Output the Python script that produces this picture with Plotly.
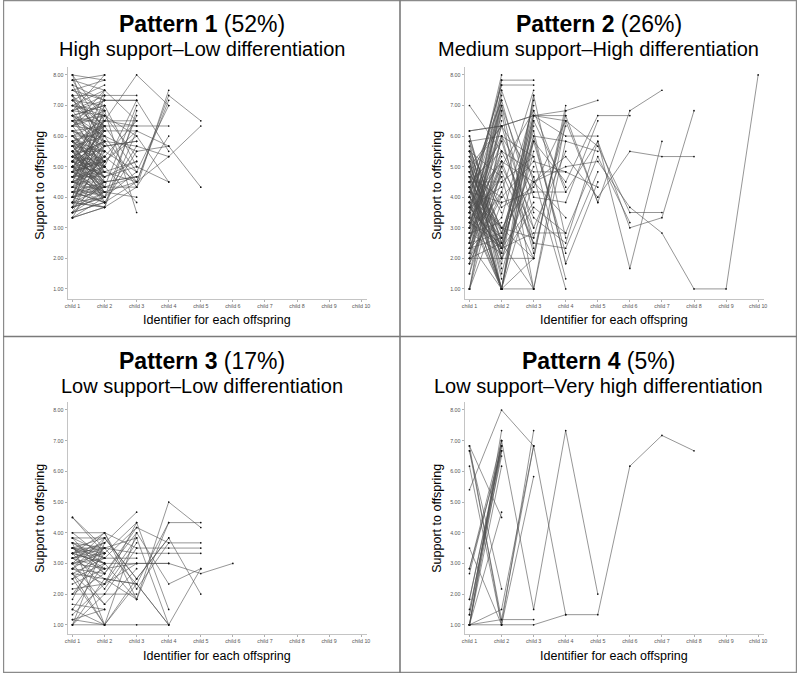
import plotly.graph_objects as go

child_labels = ["child 1", "child 2", "child 3", "child 4", "child 5",
                "child 6", "child 7", "child 8", "child 9", "child 10"]
y_ticks = [1, 2, 3, 4, 5, 6, 7, 8]

titles = ["Pattern 1", "Pattern 2", "Pattern 3", "Pattern 4"]
shares = ["(52%)", "(26%)", "(17%)", "(5%)"]
subtitles = ["High support\u2013Low differentiation",
             "Medium support\u2013High differentiation",
             "Low support\u2013Low differentiation",
             "Low support\u2013Very high differentiation"]

# Each inner list = support values to child 1, child 2, ... of one family
pattern1 = [
    [8.0, 7.83], [8.0, 6.5], [7.83, 8.0], [7.67, 7.17], [7.5, 6.83], [7.33, 7.33],
    [7.17, 7.67], [7.0, 6.17], [7.0, 7.5], [6.83, 5.5], [6.83, 6.67], [6.67, 7.0],
    [6.67, 5.83], [6.5, 6.0], [6.5, 7.17], [6.33, 5.0], [6.33, 6.83], [6.17, 5.67],
    [6.17, 6.33], [6.0, 4.67], [6.0, 6.5], [5.83, 5.17], [5.83, 6.17], [5.67, 4.5],
    [5.67, 6.0], [5.5, 5.5], [5.5, 4.17], [5.33, 5.83], [5.33, 4.83], [5.17, 5.33],
    [5.17, 4.33], [5.0, 5.67], [5.0, 4.0], [4.83, 5.17], [4.83, 6.33], [4.67, 4.67],
    [4.67, 5.5], [4.5, 4.17], [4.5, 5.0], [4.33, 4.83], [4.33, 6.0], [4.17, 4.5],
    [4.17, 5.33], [4.0, 4.17], [4.0, 6.67], [3.83, 4.33], [3.83, 5.83], [3.67, 4.0],
    [3.67, 7.0], [3.5, 4.5], [3.5, 3.83], [3.33, 3.67], [3.33, 5.17], [5.17, 4.17],
    [5.0, 5.17], [4.83, 4.5], [5.33, 5.0], [5.17, 5.0], [4.5, 4.5], [4.67, 4.17],
    [5.5, 6.33], [6.0, 5.33], [6.33, 7.5], [5.83, 4.83], [4.0, 5.0], [4.33, 3.83],
    [6.83, 8.0], [7.33, 5.83], [3.83, 3.67], [5.67, 6.67], [4.17, 3.83], [6.5, 5.17],
    [5.0, 6.17], [4.83, 4.0], [6.17, 4.33], [5.5, 4.67], [7.17, 6.33], [3.67, 5.5],
    [5.33, 4.5], [5.17, 5.83], [5.0, 4.83], [4.83, 5.33], [4.67, 4.83], [4.5, 5.17],
    [5.33, 5.17], [5.17, 4.67], [5.0, 4.5], [4.83, 4.17], [4.67, 5.0], [4.5, 4.0],
    [5.67, 5.17], [5.5, 5.0], [5.83, 5.5], [6.0, 6.0], [6.17, 5.83], [6.33, 6.17],
    [6.5, 6.67], [6.67, 6.33], [6.83, 7.17], [7.0, 6.83], [7.17, 7.0], [7.5, 7.83],
    [4.33, 4.33], [4.17, 4.17], [4.0, 4.33], [3.83, 4.0], [3.67, 4.5], [3.5, 4.17],
    [4.5, 6.5], [4.0, 7.33], [3.83, 6.33], [5.83, 3.83], [6.67, 4.83], [7.33, 4.5],
    [7.67, 5.67], [8.0, 5.0], [7.83, 6.17], [3.33, 4.0], [3.5, 5.67], [5.67, 5.5],
    [5.33, 6.5], [5.17, 7.0], [4.83, 7.5], [4.67, 6.17], [5.0, 3.83], [5.5, 4.33],
    [5.5, 6.5, 8.0, 7.0], [4.67, 5.33, 4.5, 7.33, 6.5], [5.83, 4.83, 4.5, 5.33, 6.33],
    [6.0, 5.17, 6.17, 5.67, 4.33], [4.0, 3.67, 4.33, 7.5], [3.67, 4.17, 4.5, 7.17],
    [5.17, 6.5, 6.33, 6.33], [6.33, 7.17, 7.17, 5.5], [4.5, 4.33, 4.33, 6.0],
    [5.33, 4.67, 5.0, 4.5], [7.0, 6.67, 6.0, 4.5], [4.83, 5.83, 5.67, 5.33],
    [4.33, 4.0, 4.83, 7.0], [6.67, 6.0, 5.5, 5.67],
    [6.83, 7.33, 7.33], [7.5, 7.17, 7.17], [6.5, 6.5, 6.5], [5.83, 6.33, 6.33],
    [5.0, 6.17, 6.17], [4.67, 5.67, 5.83], [4.17, 4.33, 7.0], [3.83, 3.67, 6.83],
    [5.5, 4.0, 6.67], [5.67, 4.17, 4.0], [6.0, 5.0, 3.83], [4.5, 6.83, 3.5],
    [5.17, 4.67, 5.17], [6.17, 5.5, 4.83], [4.0, 4.5, 4.67], [7.17, 6.0, 4.5],
    [3.5, 3.83, 5.5], [6.67, 7.0, 5.0], [4.83, 5.17, 6.0], [5.33, 5.83, 4.33],
    [3.67, 4.0, 5.67], [7.83, 7.5, 6.5], [6.33, 6.67, 5.33], [4.33, 5.33, 6.5],
    [5.0, 4.33, 4.67], [5.83, 5.0, 7.17], [4.17, 3.83, 4.5], [6.5, 5.67, 5.83],
    [7.33, 6.33, 4.83], [3.33, 3.67, 6.17], [4.5, 4.83, 5.17], [5.67, 4.5, 4.67],
]

pattern2 = [
    [3.5, 8.0], [2.5, 7.83], [4.0, 7.67], [3.0, 7.5], [2.0, 7.33], [4.5, 7.17],
    [3.33, 7.0], [1.0, 6.83], [2.83, 6.5], [5.0, 6.33], [1.5, 6.0], [6.17, 6.33],
    [7.0, 5.5], [5.83, 1.0], [5.5, 1.33], [6.0, 2.5], [5.17, 1.67], [4.67, 2.33],
    [4.83, 1.0], [5.67, 2.0], [4.33, 2.17], [3.83, 1.0], [3.17, 5.33], [2.67, 5.17],
    [2.17, 4.83], [1.83, 4.5], [2.33, 5.0], [3.67, 4.33], [4.17, 3.0], [5.33, 3.5],
    [1.0, 3.83], [2.0, 2.0], [4.0, 2.67], [3.0, 4.0], [4.5, 5.5], [5.0, 2.33],
    [3.5, 6.67], [2.5, 1.0], [4.17, 7.17], [5.5, 4.67], [3.83, 5.17], [4.67, 4.0],
    [3.17, 2.5], [2.83, 3.17], [4.33, 5.83], [3.67, 2.33], [5.17, 3.0], [2.33, 2.67],
    [3.33, 4.67], [4.83, 2.83],
    [3.5, 7.83, 7.83], [4.0, 7.67, 7.67], [2.5, 7.0, 2.33], [3.0, 6.83, 1.0],
    [2.17, 7.5, 4.5], [1.83, 7.17, 3.5], [5.0, 1.0, 7.33], [4.67, 2.33, 7.17],
    [5.5, 2.5, 6.67], [4.33, 1.0, 6.5], [3.83, 2.17, 6.33], [5.83, 2.83, 5.83],
    [6.0, 2.0, 4.67], [3.33, 1.0, 1.0], [4.5, 3.0, 2.0], [2.67, 4.17, 7.5],
    [3.17, 5.83, 2.67], [4.83, 6.33, 3.0], [2.83, 5.0, 6.83], [1.5, 4.83, 2.5],
    [3.67, 2.33, 3.83], [5.17, 1.5, 5.5], [4.17, 3.83, 4.17], [2.33, 3.33, 7.0],
    [3.5, 2.67, 5.0], [4.0, 2.0, 2.0], [1.0, 6.0, 5.33],
    [4.0, 2.5, 6.67, 6.67], [3.5, 1.0, 6.67, 6.5], [5.33, 2.33, 6.0, 1.83],
    [2.5, 6.33, 4.67, 1.0], [3.0, 5.5, 4.83, 4.83], [4.67, 1.0, 5.83, 2.17],
    [1.83, 4.17, 2.0, 6.83], [2.0, 2.5, 1.0, 5.83], [4.33, 1.83, 7.33, 2.67],
    [5.0, 3.0, 2.67, 6.33], [2.17, 5.17, 4.5, 3.33], [3.83, 1.0, 2.0, 7.0],
    [5.83, 6.0, 4.17, 4.17], [3.17, 2.33, 2.83, 2.83], [4.5, 4.5, 5.33, 1.33],
    [1.0, 5.0, 3.0, 5.5], [2.83, 2.17, 6.5, 4.33],
    [6.17, 6.33, 6.67, 6.83, 7.17], [3.0, 6.33, 6.67, 6.0, 6.0],
    [2.0, 4.0, 5.17, 4.83, 4.33], [3.5, 5.17, 2.5, 2.33, 4.83],
    [5.5, 3.67, 4.33, 6.5, 3.83], [2.5, 2.83, 6.17, 1.83, 4.5],
    [4.5, 1.0, 6.0, 5.83, 5.5], [3.83, 7.0, 4.0, 3.83, 6.5],
    [3.33, 2.33, 5.83, 4.5, 6.67, 6.67],
    [2.33, 5.5, 3.33, 2.5, 5.83, 1.67, 5.83],
    [4.33, 1.0, 4.5, 5.33, 4.0, 5.5, 5.33, 5.33],
    [3.67, 6.0, 2.17, 6.67, 3.83, 6.83, 7.5],
    [4.83, 2.67, 6.83, 4.17, 5.83, 3.0, 3.33, 6.83],
    [2.67, 4.67, 1.0, 6.5, 5.67, 3.5, 3.5],
    [4.0, 3.0, 4.5, 5.0, 5.17, 3.67, 2.83, 1.0, 1.0, 8.0],
    [5.17, 2.0, 3.67, 2.83, 5.33, 3.17],
]

pattern3 = [
    [3.5, 3.33], [3.33, 3.5], [3.17, 2.83], [3.0, 3.33], [3.67, 3.0], [2.83, 3.5],
    [3.5, 2.67], [3.17, 3.5], [3.33, 3.0], [2.67, 3.17], [2.33, 2.83], [2.0, 3.33],
    [4.0, 3.17], [1.67, 1.5], [1.83, 3.83], [1.0, 3.67], [4.5, 3.33], [3.67, 1.0],
    [3.83, 3.83], [2.67, 1.0], [1.5, 3.0], [3.0, 1.67], [3.5, 3.5], [2.5, 3.0],
    [1.17, 1.5], [3.33, 3.67], [3.17, 3.33], [2.83, 2.67], [3.5, 3.17], [3.0, 2.83],
    [4.0, 4.0, 3.5], [3.17, 3.67, 4.67], [2.83, 2.33, 4.33], [3.5, 3.83, 2.5],
    [1.5, 1.0, 4.0], [3.67, 3.17, 3.17], [2.0, 2.0, 2.0], [2.5, 3.5, 3.83],
    [3.33, 2.17, 3.67], [1.33, 2.33, 3.0], [3.0, 4.0, 1.83], [2.67, 1.67, 2.83],
    [3.83, 2.67, 4.17], [1.0, 2.5, 2.33],
    [1.0, 1.0, 1.0, 1.0], [4.5, 3.5, 2.33, 1.0], [3.83, 3.33, 4.33, 1.5],
    [2.67, 2.5, 1.83, 4.33], [3.33, 4.0, 2.17, 3.67], [1.17, 1.0, 2.5, 3.83],
    [3.5, 2.83, 3.0, 3.0], [2.17, 2.33, 3.83, 1.0],
    [3.5, 3.0, 1.83, 5.0, 4.17], [3.17, 2.5, 2.33, 4.33, 4.33],
    [2.83, 3.83, 2.5, 3.83, 2.0], [2.0, 2.67, 4.0, 2.33, 2.83],
    [3.67, 3.5, 3.33, 3.33, 3.33], [2.5, 1.0, 2.33, 1.0, 2.83],
    [3.0, 3.17, 4.17, 3.67, 3.67], [1.0, 2.0, 3.5, 3.5, 3.5],
    [3.33, 3.0, 3.0, 3.0, 2.67, 3.0],
]

pattern4 = [
    [5.4, 8.0, 6.83, 1.33, 1.33, 6.17, 7.17, 6.67],
    [1.0, 7.0, 1.5, 7.33, 2.0],
    [1.0, 1.0, 1.0, 1.33],
    [1.0, 1.17, 1.17],
    [6.83, 1.0, 7.33],
    [6.67, 1.17, 6.83],
    [6.17, 1.0, 5.83],
    [1.0, 1.5, 6.83],
    [2.83, 7.0], [2.67, 6.83], [1.83, 6.67], [1.5, 6.5], [1.33, 6.83],
    [1.0, 6.67], [1.0, 6.17], [3.5, 1.0], [6.67, 2.17], [1.0, 4.67],
    [1.0, 7.33], [6.83, 4.5], [1.83, 6.83], [1.33, 7.0], [2.83, 6.67],
]

patterns = [pattern1, pattern2, pattern3, pattern4]

# layout geometry (paper fractions)
W, H = 800, 673
x_doms = [(65 / W, 367 / W), (465 / W, 767 / W)]
y_doms = [((H - 299) / H, (H - 67) / H), ((H - 634) / H, (H - 402) / H)]
y_ranges = [[0.67, 8.26], [0.7, 8.26]]
title_y = [24, 361]
sub_y = [49.5, 386]
xtitle_y = [320, 656]
ytitle_y = [185, 518]
panel_cx = [200, 600]

fig = go.Figure()
layout_axes = {}
annotations = []
for k, fams in enumerate(patterns):
    col, row = k % 2, k // 2
    ax = "" if k == 0 else str(k + 1)
    for fam in fams:
        xs = list(range(1, len(fam) + 1))
        fig.add_trace(go.Scatter(
            x=xs, y=fam, mode="lines+markers",
            line=dict(color="#4f4f4f", width=0.6),
            marker=dict(color="#111111", size=1.7),
            xaxis="x" + ax, yaxis="y" + ax, showlegend=False, hoverinfo="skip"))
    axis_common = dict(showline=True, linecolor="#c4c4c4", linewidth=1,
                       ticks="outside", ticklen=2, tickcolor="#b0b0b0",
                       showgrid=False, zeroline=False,
                       tickfont=dict(size=5.3, color="#555555", family="Liberation Sans"))
    layout_axes["xaxis" + ax] = dict(axis_common, domain=list(x_doms[col]),
                                     range=[0.845, 10.19], tickvals=list(range(1, 11)),
                                     ticktext=child_labels, anchor="y" + ax)
    layout_axes["yaxis" + ax] = dict(axis_common, domain=list(y_doms[row]),
                                     range=y_ranges[row], tickvals=y_ticks,
                                     tickformat=".2f", anchor="x" + ax)
    cx = panel_cx[col]
    annotations.append(dict(x=cx / W, y=1 - title_y[row] / H, xref="paper", yref="paper",
                            text="<b>%s</b> %s" % (titles[k], shares[k]), showarrow=False,
                            font=dict(size=23, color="black", family="Liberation Sans"),
                            xanchor="center", yanchor="middle"))
    annotations.append(dict(x=cx / W, y=1 - sub_y[row] / H, xref="paper", yref="paper",
                            text=subtitles[k], showarrow=False,
                            font=dict(size=20, color="black", family="Liberation Sans"),
                            xanchor="center", yanchor="middle"))
    annotations.append(dict(x=(cx + 16) / W, y=1 - xtitle_y[row] / H, xref="paper", yref="paper",
                            text="Identifier for each offspring", showarrow=False,
                            font=dict(size=12.5, color="black", family="Liberation Sans"),
                            xanchor="center", yanchor="middle"))
    annotations.append(dict(x=(cx - 163) / W, y=1 - ytitle_y[row] / H, xref="paper", yref="paper",
                            text="Support to offspring", showarrow=False, textangle=-90,
                            font=dict(size=12.5, color="black", family="Liberation Sans"),
                            xanchor="center", yanchor="middle"))

shapes = [
    dict(type="rect", xref="paper", yref="paper", x0=0.6 / W, x1=1 - 0.6 / W,
         y0=0.6 / H, y1=1 - 0.6 / H, line=dict(color="#8a8a8a", width=1.2)),
    dict(type="line", xref="paper", yref="paper", x0=400 / W, x1=400 / W, y0=0, y1=1,
         line=dict(color="#7a7a7a", width=1.6)),
    dict(type="line", xref="paper", yref="paper", x0=0, x1=1, y0=1 - 336.5 / H, y1=1 - 336.5 / H,
         line=dict(color="#7a7a7a", width=1.6)),
]

fig.update_layout(width=W, height=H, margin=dict(l=0, r=0, t=0, b=0),
                  paper_bgcolor="white", plot_bgcolor="white", hovermode=False,
                  annotations=annotations, shapes=shapes, **layout_axes)
fig.write_html("out.html", config={"displayModeBar": False},
               post_script="document.body.style.margin='0';"
               "document.body.style.overflow='hidden';")
